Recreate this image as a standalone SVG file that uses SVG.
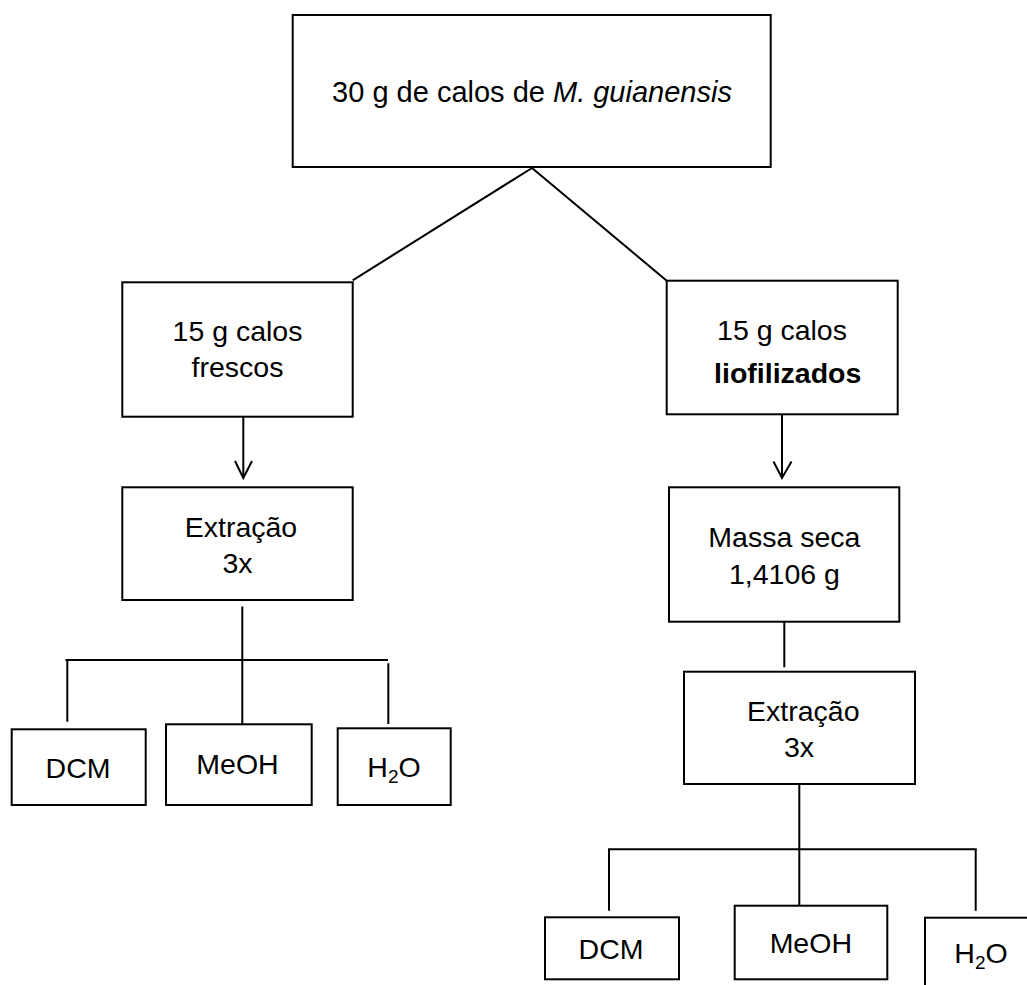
<svg xmlns="http://www.w3.org/2000/svg" width="1027" height="985" viewBox="0 0 1027 985">
<style>
.box{fill:#fff;stroke:#000;stroke-width:2}
.ln{fill:none;stroke:#000;stroke-width:2}
text{font-family:"Liberation Sans",Arial,sans-serif;font-size:28.5px;fill:#000;text-anchor:middle}
.sub{font-size:19px}
</style>
<rect width="1027" height="985" fill="#fff"/>
<g id="connectors">
<path class="ln" d="M532 168 L352.7 280.3"/>
<path class="ln" d="M532 168 L666.7 280.7"/>
<path class="ln" d="M243.3 416 V477"/>
<path class="ln" d="M235 461 L243.3 478 L252 461"/>
<path class="ln" d="M782 415 V477"/>
<path class="ln" d="M773.5 461.5 L782 478 L791.5 461.5"/>
<path class="ln" d="M242.3 606.5 V724.3"/>
<path class="ln" d="M65.5 660 H388"/>
<path class="ln" d="M67.3 660 V721.7"/>
<path class="ln" d="M388.3 663.3 V724"/>
<path class="ln" d="M784.3 621.7 V667.3"/>
<path class="ln" d="M799.3 784 V905.7"/>
<path class="ln" d="M608 849.3 H976.7"/>
<path class="ln" d="M609 849.3 V910.7"/>
<path class="ln" d="M975.7 849.3 V910.7"/>
</g>
<g id="n-top">
<rect class="box" x="292.7" y="15" width="478" height="152"/>
<text x="532" y="101.7" style="font-size:29px">30 g de calos de <tspan font-style="italic">M. guianensis</tspan></text>
</g>
<g id="n-frescos">
<rect class="box" x="122.3" y="282.3" width="230.4" height="134.4"/>
<text x="237.5" y="341">15 g calos</text>
<text x="237.5" y="377.3">frescos</text>
</g>
<g id="n-liof">
<rect class="box" x="666.7" y="280.7" width="231" height="133.6"/>
<text x="782" y="340">15 g calos</text>
<text x="787.7" y="383.3" font-weight="bold">liofilizados</text>
</g>
<g id="n-extr1">
<rect class="box" x="122.3" y="487.3" width="230.4" height="112.7"/>
<text x="241" y="536.7">Extração</text>
<text x="237.5" y="573.3">3x</text>
</g>
<g id="n-massa">
<rect class="box" x="669" y="487.3" width="230.3" height="134.4"/>
<text x="784.4" y="547.3">Massa seca</text>
<text x="784.4" y="584">1,4106 g</text>
</g>
<g id="n-extr2">
<rect class="box" x="684" y="671.7" width="231" height="112.3"/>
<text x="803.3" y="720.7">Extração</text>
<text x="799" y="757.3">3x</text>
</g>
<g id="n-dcm1">
<rect class="box" x="11.7" y="729.3" width="134" height="75.7"/>
<text x="78" y="778.3">DCM</text>
</g>
<g id="n-meoh1">
<rect class="box" x="166" y="724.3" width="145.7" height="80.7"/>
<text x="237.5" y="774.3">MeOH</text>
</g>
<g id="n-h2o1">
<rect class="box" x="337.7" y="728.3" width="113" height="76.7"/>
<text x="394" y="776.7">H<tspan class="sub" dy="6">2</tspan><tspan dy="-6">O</tspan></text>
</g>
<g id="n-dcm2">
<rect class="box" x="545" y="917.3" width="134" height="62"/>
<text x="611" y="959.3">DCM</text>
</g>
<g id="n-meoh2">
<rect class="box" x="734.7" y="905.7" width="152.6" height="73.6"/>
<text x="810.8" y="952.7">MeOH</text>
</g>
<g id="n-h2o2">
<rect class="box" x="925" y="917.7" width="120" height="90"/>
<text x="981" y="963.3">H<tspan class="sub" dy="6">2</tspan><tspan dy="-6">O</tspan></text>
</g>
</svg>
